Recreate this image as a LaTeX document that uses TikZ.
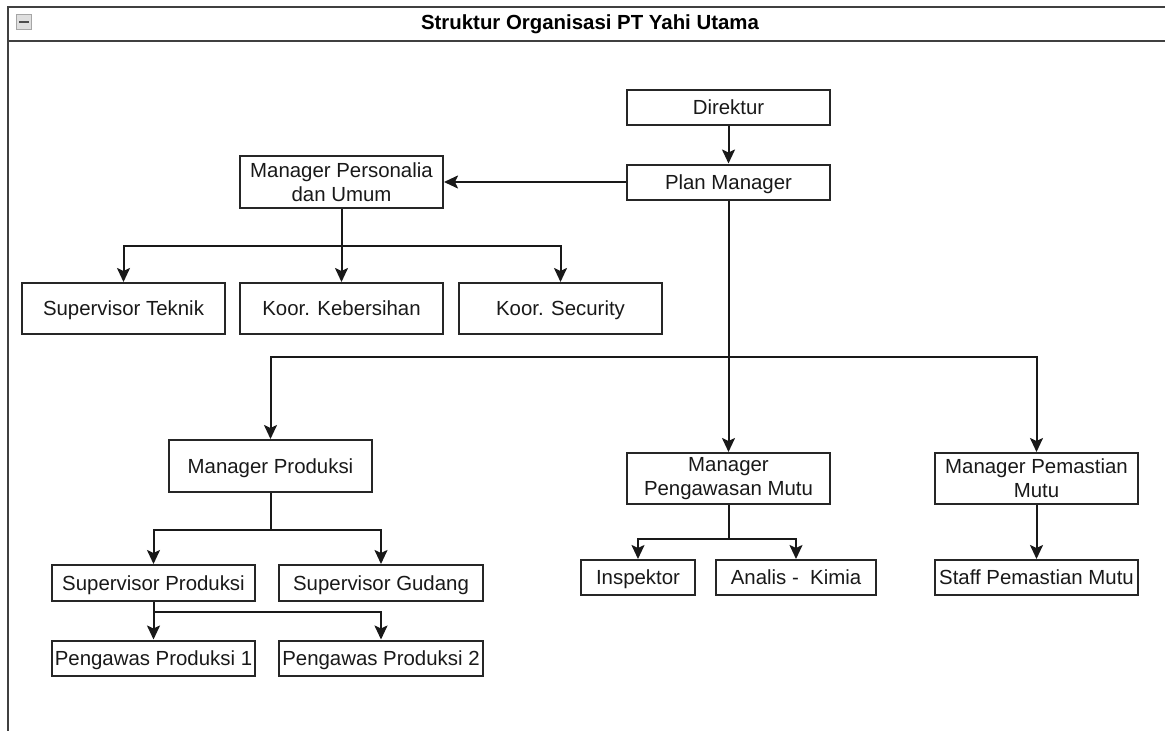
\documentclass[tikz,border=0pt]{standalone}
\usepackage{fontspec}
\setmainfont{Liberation Sans}
\usetikzlibrary{arrows.meta}

\tikzset{
	box/.style = {draw=black!85, line width=2pt, fill=white, align=center,
		inner sep=0pt, minimum width=203pt, minimum height=35pt,
		font=\fontsize{20.4}{24}\selectfont, text=black!90},
	oneline/.style = {box, text height=16.5pt, text depth=2.5pt},
	arr/.style = {line width=2pt, black!90,
		-{Stealth[length=14pt, width=13pt, inset=3pt]}},
}

\begin{document}
	\begin{tikzpicture}[x=1pt, y=1pt]
		\useasboundingbox (0,0) rectangle (1165,-731);
		\def\tall{52pt};
	
		% frame and title bar
		\draw[line width=2.2pt, black!75] (8,-731) -- (8,-7) -- (1165,-7);
		\draw[line width=2.2pt, black!75] (8,-41) -- (1165,-41);
		\draw[gray!70, line width=1pt, fill=gray!25] (16,-14) rectangle (31,-29);
		\fill[black!70] (18.5,-20.5) rectangle (28.5,-23);
		\node[font=\fontsize{20.4}{24}\selectfont\bfseries] (title) at (590,-24) {Struktur Organisasi PT Yahi Utama};
	
		% top levels
		\node[oneline] (direktur) at (728.5,-107) {Direktur};
		\node[oneline] (plan) at (728.5,-182) {Plan Manager};
		\node[box, minimum height=\tall] (personalia) at (341.5,-182) {Manager Personalia\\dan Umum};
	
		\node[oneline, minimum height=51pt] (teknik) at (123.5,-308.5) {Supervisor Teknik};
		\node[oneline, minimum height=51pt] (kebersihan) at (341.5,-308.5) {Koor. Kebersihan};
		\node[oneline, minimum height=51pt] (security) at (560.5,-308.5) {Koor. Security};
	
		% managers
		\node[oneline, minimum height=\tall] (produksi) at (270.5,-466) {Manager Produksi};
		\node[box, minimum height=51pt] (pengawasan) at (728.5,-478.5) {Manager\\Pengawasan Mutu};
		\node[box, minimum height=51pt] (pemastian) at (1036.5,-478.5) {Manager Pemastian\\Mutu};
	
		% staff
		\node[oneline, minimum height=36pt] (spvprod) at (153.5,-583) {Supervisor Produksi};
		\node[oneline, minimum height=36pt, minimum width=204pt] (gudang) at (381,-583) {Supervisor Gudang};
		\node[oneline] (pengawas1) at (153.5,-658) {Pengawas Produksi 1};
		\node[oneline, minimum width=204pt] (pengawas2) at (381,-658) {Pengawas Produksi 2};
		\node[oneline, minimum width=114pt] (inspektor) at (638,-577.5) {Inspektor};
		\node[oneline, minimum width=160pt] (analis) at (796,-577.5) {Analis -\ \ Kimia};
		\node[oneline] (staff) at (1036.5,-577.5) {Staff Pemastian Mutu};
	
		% connectors
		\draw[arr] (direktur) -- (plan);
		\draw[arr] (plan) -- (personalia);
	
		\draw[arr] (personalia.south) -- ++(0,-37) -| (teknik.north);
		\draw[arr] (personalia) -- (kebersihan);
		\draw[arr] (personalia.south) -- ++(0,-37) -| (security.north);
	
		\draw[arr] (plan.south) -- ++(0,-156) -| (produksi.north);
		\draw[arr] (plan) -- (pengawasan);
		\draw[arr] (plan.south) -- ++(0,-156) -| (pemastian.north);
	
		\draw[arr] (produksi.south) -- ++(0,-37) -| (spvprod.north);
		\draw[arr] (produksi.south) -- ++(0,-37) -| (gudang.north);
		\draw[arr] (spvprod) -- (pengawas1);
		\draw[arr] (spvprod.south) -- ++(0,-10) -| (pengawas2.north);
	
		\draw[arr] (pengawasan.south) -- ++(0,-34) -| (inspektor.north);
		\draw[arr] (pengawasan.south) -- ++(0,-34) -| (analis.north);
		\draw[arr] (pemastian) -- (staff);
	\end{tikzpicture}
\end{document}
